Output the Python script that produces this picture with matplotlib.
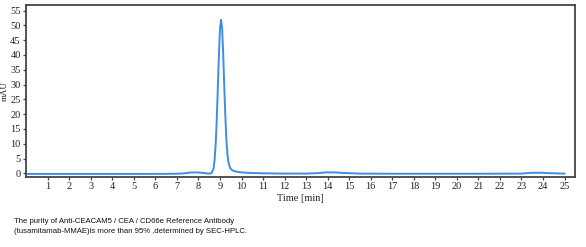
import matplotlib
matplotlib.use("Agg")
import matplotlib.pyplot as plt

# chromatogram points (time in min, signal in mAU)
time_min = [0.0, 1.0, 2.0, 3.0, 4.0, 5.0, 6.0, 7.0, 7.3, 7.6, 7.9, 8.2, 8.45, 8.6,
            8.7, 8.75, 8.8, 8.85, 8.9, 8.95, 9.0, 9.05, 9.1, 9.15, 9.2, 9.25,
            9.3, 9.35, 9.4, 9.45, 9.5, 9.6, 9.8, 10.0, 10.5, 11.0, 12.0, 13.0,
            13.5, 13.9, 14.3, 14.8, 15.5, 17.0, 19.0, 21.0, 23.0, 23.4, 23.9,
            24.3, 25.0]
mau = [-0.2, -0.2, -0.2, -0.2, -0.2, -0.2, -0.2, -0.15, -0.05, 0.25, 0.3, 0.15, -0.1, 0.0,
       1.5, 4.5, 10.0, 18.0, 29.0, 40.0, 49.0, 51.9, 49.0, 40.0, 29.0, 19.0,
       11.0, 6.0, 3.5, 2.2, 1.5, 0.9, 0.5, 0.3, 0.1, 0.0, -0.1, -0.1,
       0.05, 0.3, 0.3, 0.1, -0.1, -0.15, -0.15, -0.15, -0.1, 0.15, 0.2,
       0.05, -0.1]

x_ticks = list(range(1, 26))
y_ticks = list(range(0, 56, 5))

caption = ("The purity of Anti-CEACAM5 / CEA / CD66e Reference Antibody\n"
           "(tusamitamab-MMAE)is more than 95% ,determined by SEC-HPLC.")

fig = plt.figure(figsize=(5.86, 2.47), dpi=100)
ax = fig.add_axes([0.0447, 0.2846, 0.937, 0.6952])

ax.plot(time_min, mau, color="#3d8ee6", lw=1.4)

ax.set_xlim(0, 25.5)
ax.set_ylim(-1.15, 56.9)
ax.set_xticks(x_ticks)
ax.set_yticks(y_ticks)

for s in ax.spines.values():
    s.set_color("#444444")
    s.set_linewidth(1.3)

ax.tick_params(direction="out", length=2.5, width=0.9, colors="#444444",
               labelsize=7.5, pad=1.5, labelcolor="#222222")
for lab in ax.get_xticklabels() + ax.get_yticklabels():
    lab.set_family("Liberation Serif")

ax.set_xlabel("Time [min]", family="Liberation Serif", fontsize=7.5,
              color="#222222", labelpad=2)
ax.set_ylabel("mAU", family="Liberation Serif", fontsize=6.5,
              color="#222222", labelpad=1)

fig.text(0.024, 0.083, caption, family="Liberation Sans", fontsize=5.6,
         color="#111111", va="center", ha="left", linespacing=1.45)

fig.savefig("out.png", dpi=100)
